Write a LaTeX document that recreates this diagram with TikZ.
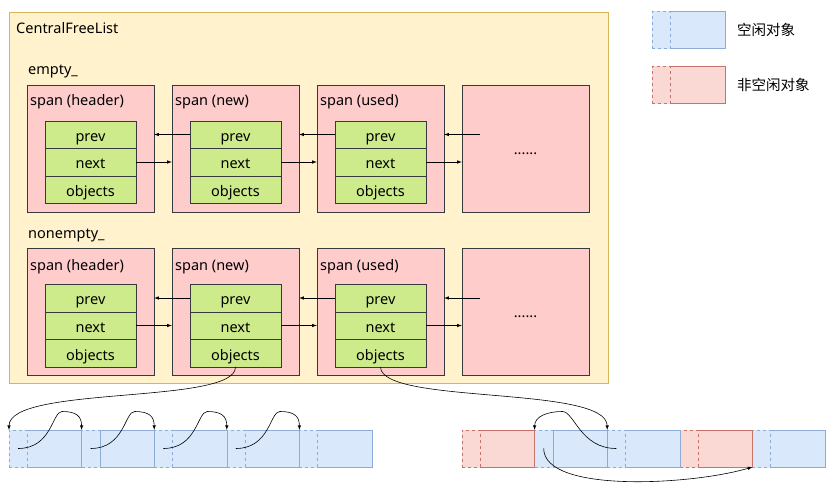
\documentclass[tikz,border=0pt]{standalone}
\usepackage{fontspec}
\setmainfont{Noto Sans}
\newfontfamily\cjk{Noto Sans CJK SC}
\usepackage{tikz}
\usetikzlibrary{arrows,positioning}
\definecolor{listfill}{HTML}{FFF2CC}
\definecolor{listline}{HTML}{D6B656}
\definecolor{spanfill}{HTML}{FFCCCC}
\definecolor{spanline}{HTML}{36393D}
\definecolor{fieldfill}{HTML}{CDEB8B}
\definecolor{freefill}{HTML}{DAE8FC}
\definecolor{freeline}{HTML}{8EAAD6}
\definecolor{usedfill}{HTML}{FAD9D5}
\definecolor{usedline}{HTML}{C8726A}
\newcommand{\lbl}{\fontsize{14.5}{17}\selectfont}
\tikzstyle{listbox}=[rectangle, draw=listline, fill=listfill, minimum width=599pt, minimum height=371pt, inner sep=0pt]
\tikzstyle{span}=[rectangle, draw=spanline, fill=spanfill, minimum width=127pt, minimum height=127pt, inner sep=0pt, font=\lbl]
\tikzstyle{field}=[rectangle, draw=spanline, fill=fieldfill, minimum width=91pt, minimum height=27.5pt, inner sep=0pt, text height=14pt, text depth=0pt, font=\lbl]
\tikzstyle{title}=[anchor=west, inner sep=0pt, text height=12pt, text depth=0pt, font=\lbl]
\tikzstyle{link}=[-latex, semithick]
\tikzstyle{freebody}=[rectangle, draw=freeline, fill=freefill, minimum width=54.4pt, minimum height=37pt, inner sep=0pt, outer sep=0pt]
\tikzstyle{freehd}=[freebody, minimum width=18.2pt, dashed, preaction={draw=freefill, solid, line width=1pt}]
\tikzstyle{usedbody}=[rectangle, draw=usedline, fill=usedfill, minimum width=54.4pt, minimum height=37pt, inner sep=0pt, outer sep=0pt]
\tikzstyle{usedhd}=[usedbody, minimum width=18.2pt, dashed, preaction={draw=usedfill, solid, line width=1pt}]
\begin{document}
\begin{tikzpicture}[x=1pt,y=-1pt]
\useasboundingbox (0,0) rectangle (839,492);

%CentralFreeList
\node[listbox] (cfl) at (308.5,197.5){};
\node[title] (cfln) at (16,28){CentralFreeList};
\node[title] (emp) at (28,69){empty\_};
\node[title] (nemp) at (28,233){nonempty\_};

%Row One
\node[span] (s11) at (90.5,148.5){};
\node[span] (s12) at (235.5,148.5){};
\node[span] (s13) at (380.5,148.5){};
\node[span] (s14) at (525.5,148.5){};
\node[title] (t11) at (30,100){span (header)};
\node[title] (t12) at (175,100){span (new)};
\node[title] (t13) at (320,100){span (used)};
\node[font=\lbl] (d14) at (525.5,154){......};
\node[field] (p11) at (90.5,134.5){prev};
\node[field] (n11) at (90.5,162){next};
\node[field] (o11) at (90.5,189.5){objects};
\node[field] (p12) at (235.5,134.5){prev};
\node[field] (n12) at (235.5,162){next};
\node[field] (o12) at (235.5,189.5){objects};
\node[field] (p13) at (380.5,134.5){prev};
\node[field] (n13) at (380.5,162){next};
\node[field] (o13) at (380.5,189.5){objects};
\coordinate (c14) at (480,134.5);
\draw[link] (p12.west) -- (s11.east |- p12.west);
\draw[link] (n11.east) -- (s12.west |- n11.east);
\draw[link] (p13.west) -- (s12.east |- p13.west);
\draw[link] (n12.east) -- (s13.west |- n12.east);
\draw[link] (c14) -- (s13.east |- c14);
\draw[link] (n13.east) -- (s14.west |- n13.east);

%Row Two
\node[span] (s21) at (90.5,311.5){};
\node[span] (s22) at (235.5,311.5){};
\node[span] (s23) at (380.5,311.5){};
\node[span] (s24) at (525.5,311.5){};
\node[title] (t21) at (30,264){span (header)};
\node[title] (t22) at (175,264){span (new)};
\node[title] (t23) at (320,264){span (used)};
\node[font=\lbl] (d24) at (525.5,317){......};
\node[field] (p21) at (90.5,298){prev};
\node[field] (n21) at (90.5,325.5){next};
\node[field] (o21) at (90.5,353){objects};
\node[field] (p22) at (235.5,298){prev};
\node[field] (n22) at (235.5,325.5){next};
\node[field] (o22) at (235.5,353){objects};
\node[field] (p23) at (380.5,298){prev};
\node[field] (n23) at (380.5,325.5){next};
\node[field] (o23) at (380.5,353){objects};
\coordinate (c24) at (480,298);
\draw[link] (p22.west) -- (s21.east |- p22.west);
\draw[link] (n21.east) -- (s22.west |- n21.east);
\draw[link] (p23.west) -- (s22.east |- p23.west);
\draw[link] (n22.east) -- (s23.west |- n22.east);
\draw[link] (c24) -- (s23.east |- c24);
\draw[link] (n23.east) -- (s24.west |- n23.east);

%Legend
\node[freebody] (k1b) at (697.8,30){};
\node[freehd, left=0pt of k1b] (k1h){};
\node[title, right=12pt of k1b] (k1t){\cjk 空闲对象};
\node[usedbody] (k2b) at (697.8,85){};
\node[usedhd, left=0pt of k2b] (k2h){};
\node[title, right=12pt of k2b] (k2t){\cjk 非空闲对象};

%free objects (right to left)
\node[freebody] (f5b) at (344.8,448.5){};
\node[freehd, left=0pt of f5b] (f5h){};
\node[freebody, left=0pt of f5h] (f4b){};
\node[freehd, left=0pt of f4b] (f4h){};
\node[freebody, left=0pt of f4h] (f3b){};
\node[freehd, left=0pt of f3b] (f3h){};
\node[freebody, left=0pt of f3h] (f2b){};
\node[freehd, left=0pt of f2b] (f2h){};
\node[freebody, left=0pt of f2h] (f1b){};
\node[freehd, left=0pt of f1b] (f1h){};
\draw[link] (o22.south) .. controls (236,405) and (9,385) .. (f1h.north west);
\draw[link] (f1h.center) .. controls +(34,0) and +(-10,0) .. ++(44,-37) .. controls +(14,0) and +(0,-14) .. (f2h.north west);
\draw[link] (f2h.center) .. controls +(34,0) and +(-10,0) .. ++(44,-37) .. controls +(14,0) and +(0,-14) .. (f3h.north west);
\draw[link] (f3h.center) .. controls +(34,0) and +(-10,0) .. ++(44,-37) .. controls +(14,0) and +(0,-14) .. (f4h.north west);
\draw[link] (f4h.center) .. controls +(34,0) and +(-10,0) .. ++(44,-37) .. controls +(14,0) and +(0,-14) .. (f5h.north west);

%mixed objects (right to left)
\node[freebody] (r5b) at (797.8,448.5){};
\node[freehd, left=0pt of r5b] (r5h){};
\node[usedbody, left=0pt of r5h] (r4b){};
\node[usedhd, left=0pt of r4b] (r4h){};
\node[freebody, left=0pt of r4h] (r3b){};
\node[freehd, left=0pt of r3b] (r3h){};
\node[freebody, left=0pt of r3h] (r2b){};
\node[freehd, left=0pt of r2b] (r2h){};
\node[usedbody, left=0pt of r2h] (r1b){};
\node[usedhd, left=0pt of r1b] (r1h){};
\draw[link] (o23.south) .. controls (381,405) and (607,385) .. (r3h.north west);
\draw[link] (r3h.center) .. controls +(-36,0) and +(12,0) .. ++(-54,-37) .. controls +(-14,0) and +(0,-14) .. (r2h.north west);
\draw[link] (r2h.center) .. controls +(0,45) and +(-60,18) .. (r5h.south west);

\end{tikzpicture}
\end{document}
